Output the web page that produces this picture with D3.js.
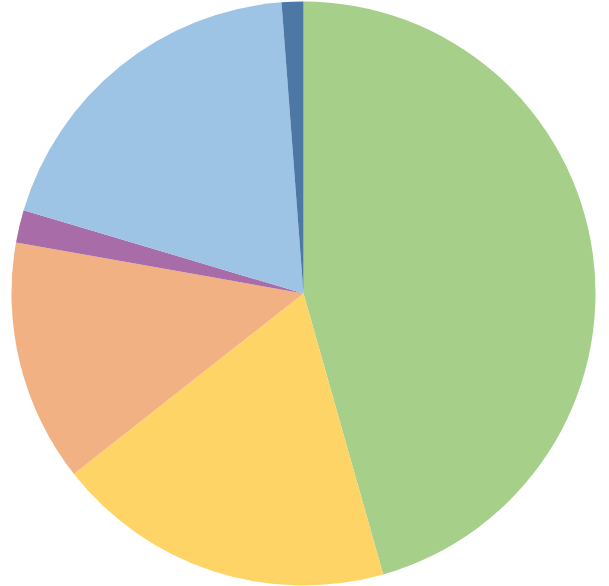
<!DOCTYPE html>
<html>
<head>
<meta charset="utf-8">
<script src="https://cdn.jsdelivr.net/npm/d3@7"></script>
<style>
  body { margin: 0; background: #fff; }
</style>
</head>
<body>
<div id="chart"></div>
<script>
// slices, clockwise from 12 o'clock
var categories = ["A", "B", "C", "D", "E", "F"];
var values = [45.6, 18.8, 13.4, 1.8, 19.2, 1.2];
var colors = ["#a6cf8a", "#ffd466", "#f1b183", "#a86ca8", "#9dc3e5", "#4d78a5"];

var svgWidth = 609;
var svgHeight = 586;
var cx = 303.5;
var cy = 293.5;
var radius = 292;

var svg = d3.select("#chart")
  .append("svg")
  .attr("width", svgWidth)
  .attr("height", svgHeight);

var g = svg.append("g")
  .attr("transform", `translate(${cx}, ${cy})`);

var data = categories.map(function(c, i) {
  return { name: c, value: values[i], color: colors[i] };
});

var pie = d3.pie()
  .sort(null)
  .value(d => d.value);

var arc = d3.arc()
  .innerRadius(0)
  .outerRadius(radius);

g.selectAll("path")
  .data(pie(data))
  .enter()
  .append("path")
  .attr("d", arc)
  .attr("fill", d => d.data.color);
</script>
</body>
</html>
